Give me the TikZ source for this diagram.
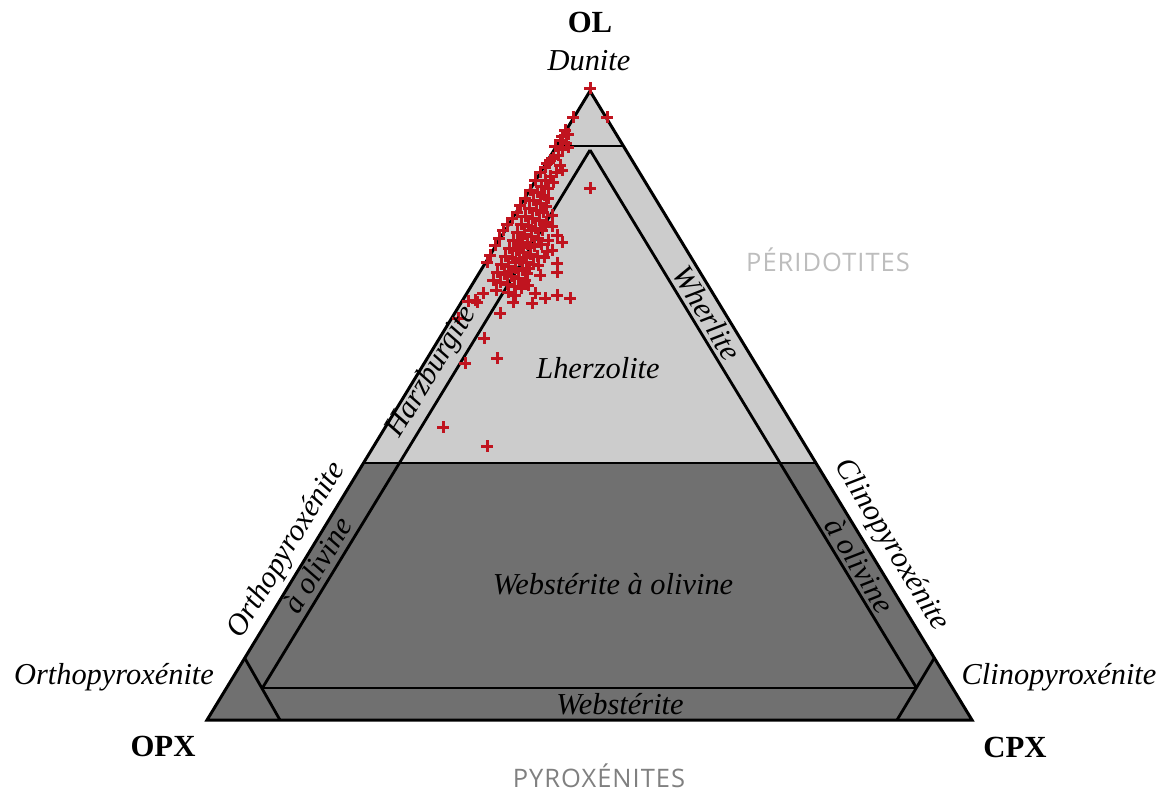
\documentclass[tikz,border=0pt]{standalone}
\usepackage{fontspec}
\setmainfont{Liberation Serif}
\newfontfamily\capsans[LetterSpace=4]{Open Sans}
\definecolor{peri}{HTML}{CCCCCC}
\definecolor{pyro}{HTML}{707070}
\definecolor{ptred}{HTML}{C0141F}
\definecolor{lbl1}{HTML}{BDBDBD}
\definecolor{lbl2}{HTML}{808080}
\tikzset{
  edge/.style={line width=1.7pt, line join=miter},
  fld/.style={line width=1.6pt},
  lab/.style={font=\fontsize{17.3}{20}\selectfont\itshape, inner sep=0pt},
  apexlab/.style={font=\fontsize{17.5}{20}\selectfont\bfseries, inner sep=0pt},
  grp/.style={font=\fontsize{14.5}{16}\selectfont\capsans, inner sep=0pt},
  plus/.style={draw=ptred, line width=1.7pt}
}
\begin{document}
\begin{tikzpicture}[x=0.02cm,y=-0.02cm]
\useasboundingbox (0,0) rectangle (1169,789);
% corners
\coordinate (A) at (590,91);
\coordinate (L) at (207,720);
\coordinate (R) at (972,720);
% 40% OL line
\coordinate (ml) at (363.5,463);
\coordinate (mr) at (816,463);
% fills
\fill[peri] (A) -- (ml) -- (mr) -- cycle;
\fill[pyro] (ml) -- (mr) -- (R) -- (L) -- cycle;
% dunite line
\coordinate (dl) at (556.5,146);
\coordinate (dr) at (623.4,146);
% inner apex
\coordinate (ia) at (590,150);
% websterite line ends
\coordinate (wl) at (262.4,688);
\coordinate (wrr) at (916.6,688);
% corner lines
\coordinate (ol1) at (244.7,658);
\coordinate (ol2) at (280,720);
\coordinate (cl1) at (934.3,658);
\coordinate (cl2) at (897,720);
\draw[fld] (dl) -- (dr);
\draw[fld] (ml) -- (mr);
\draw[fld] (ia) -- (wl);
\draw[fld] (ia) -- (wrr);
\draw[fld] (wl) -- (wrr);
\draw[fld] (ol1) -- (ol2);
\draw[fld] (cl1) -- (cl2);
\draw[edge] (A) -- (L) -- (R) -- cycle;
% data points
\foreach \px/\py in {590/88, 607/117, 573/117, 565/130, 568/134, 562/136, 560/140, 566/143, 555/146, 568/147, 562/149, 558/155, 553/158, 547/163, 560/165, 562/170, 556/172, 550/176, 545/180, 553/182, 541/186, 548/188, 590/188, 537/192, 544/195, 548/198, 533/200, 540/203, 546/206, 529/208, 536/210, 543/212, 552/215, 525/216, 532/218, 539/220, 546/222, 521/224, 528/226, 535/228, 542/230, 552/226, 545/225, 517/232, 524/234, 531/236, 538/238, 557/235, 562/242, 513/240, 520/242, 527/244, 534/246, 541/244, 547/251, 509/248, 516/250, 523/252, 530/254, 537/256, 505/256, 512/258, 519/260, 526/262, 533/264, 557/263, 501/264, 508/266, 515/268, 522/270, 529/268, 538/265, 557/272, 540/275, 497/272, 504/274, 511/276, 518/278, 525/280, 493/280, 500/282, 507/284, 514/286, 521/288, 528/285, 535/293, 545/298, 557/295, 570/298, 513/302, 500/313, 483/293, 475/300, 468/301, 477/302, 458/318, 484/338, 465/363, 497/358, 443/427, 487/446, 523/283, 532/303, 490/255, 487/262, 495/245, 499/238, 503/230, 507/224, 512/218, 517/212, 520/205, 525/198, 530/190, 535/180, 540/172, 545/167, 550/160, 496/290, 515/295, 508/292, 518/247, 524/257, 530/247, 515/262, 522/238, 531/230, 510/271, 527/273, 548/240, 552/250, 544/257}
  \draw[plus] (\px-6,\py) -- (\px+6,\py) (\px,\py-6) -- (\px,\py+6);
% labels
\node[apexlab] (tOL) at (590,22) {OL};
\node[lab] (tDun) at (589,61) {Dunite};
\node[apexlab] (tOPX) at (163,746) {OPX};
\node[apexlab] (tCPX) at (1015,747) {CPX};
\node[lab] (tOpx) at (114,677) {Orthopyroxénite};
\node[lab] (tCpx) at (1059,677) {Clinopyroxénite};
\node[lab] (tLhz) at (598,368) {Lherzolite};
\node[lab, rotate=58.66] (tHzb) at (432,372) {Harzburgite};
\node[lab, rotate=-58.8] (tWhr) at (707,313) {Wherlite};
\node[lab, rotate=58.66] (tOpxOl) at (287,550) {Orthopyroxénite};
\node[lab, rotate=58.66] (tOpxOl2) at (317,565) {à olivine};
\node[lab, rotate=-58.8] (tCpxOl) at (891,545) {Clinopyroxénite};
\node[lab, rotate=-58.8] (tCpxOl2) at (860,565) {à olivine};
\node[lab] (tWol) at (613,584) {Webstérite à olivine};
\node[lab] (tWeb) at (620,704) {Webstérite};
\node[grp, text=lbl1] (tPer) at (828,260) {PÉRIDOTITES};
\node[grp, text=lbl2] (tPyr) at (599,776) {PYROXÉNITES};
\end{tikzpicture}
\end{document}
